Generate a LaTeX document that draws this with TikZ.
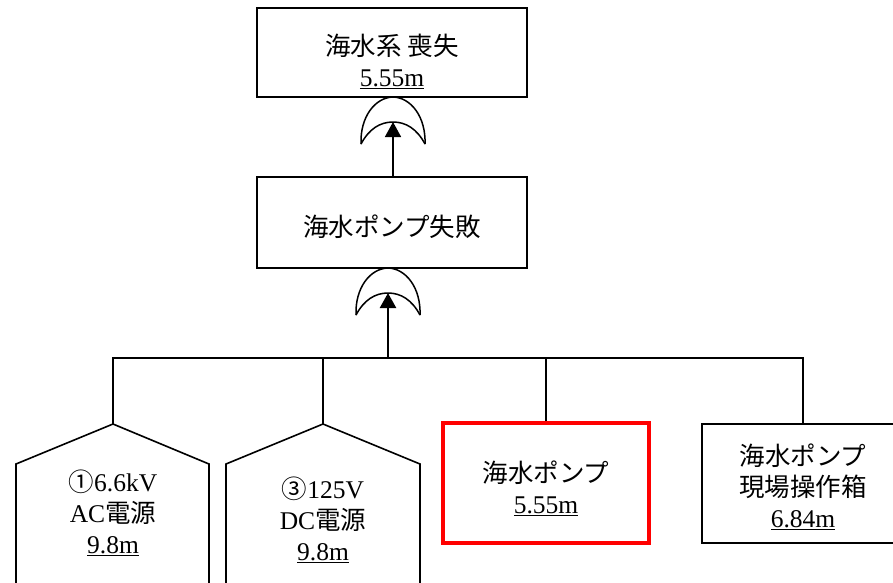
\documentclass[tikz,border=0pt]{standalone}
\usepackage{fontspec}
\setmainfont{Liberation Serif}
\newfontfamily\jp{Noto Sans CJK JP}
\usetikzlibrary{arrows.meta}
\begin{document}
\begin{tikzpicture}[x=1pt,y=-1pt,
  line width=1.6pt,
  boxnode/.style={draw=black,line width=1.6pt,inner sep=0pt},
  txt/.style={align=center,inner sep=0pt,font=\fontsize{25.5}{31}\selectfont},
  redbox/.style={draw=red,line width=3.4pt,inner sep=0pt},
  pics/orgate/.style={code={
    \draw[line width=1.5pt] (-32,47) .. controls (-33,20) and (-18,0.5) .. (0,0)
       .. controls (18,0.5) and (33,20) .. (32,47);
    \draw[line width=1.5pt] (-32,47) .. controls (-24,32) and (-13,25) .. (0,25)
       .. controls (13,25) and (24,32) .. (32,47);
    \coordinate (-in) at (0,25);
  }},
  arrowtip/.style={-{Triangle[width=16pt,length=15pt]}}
]
\useasboundingbox (0,0) rectangle (893,582);

% top box
\node[boxnode,minimum width=270,minimum height=89] (top) at (392,52.5) {};
\node[txt] (toptxt) at (392,61) {{\jp 海水系 喪失}\\\underline{5.55m}};

% middle box
\node[boxnode,minimum width=270,minimum height=91] (mid) at (392,222.5) {};
\node[txt] (midtxt) at (392,227) {\jp 海水ポンプ失敗};

% gates
\pic (ga) at (393,97) {orgate};
\pic (gb) at (388,268) {orgate};
\draw[arrowtip] (mid.north -| ga-in) -- (ga-in);

% bus
\coordinate (bus) at (388,358);
\draw[arrowtip,line width=2.4pt] (bus) -- (gb-in);

% house 1
\coordinate (h1) at (113,424);
\draw (16,600) -- (16,464) -- (h1) -- (209,464) -- (209,600);
\node[txt] (h1txt) at (113,513) {{\jp ①}6.6kV\\AC{\jp 電源}\\\underline{9.8m}};

% house 2
\coordinate (h2) at (323,424);
\draw (226,600) -- (226,464) -- (h2) -- (420,464) -- (420,600);
\node[txt] (h2txt) at (323,520) {{\jp ③}125V\\DC{\jp 電源}\\\underline{9.8m}};

% pump (red)
\node[redbox,minimum width=206,minimum height=120] (pump) at (546,483) {};
\node[txt] (pumptxt) at (546,488) {{\jp 海水ポンプ}\\\underline{5.55m}};

% operating box
\node[boxnode,minimum width=202,minimum height=119] (opbox) at (803,483.5) {};
\node[txt] (optxt) at (803,487) {{\jp 海水ポンプ}\\{\jp 現場操作箱}\\\underline{6.84m}};

% connectors
\draw (h1) |- (bus);
\draw (h2) |- (bus);
\draw (pump.north) |- (bus);
\draw (opbox.north) |- (bus);
\end{tikzpicture}
\end{document}
